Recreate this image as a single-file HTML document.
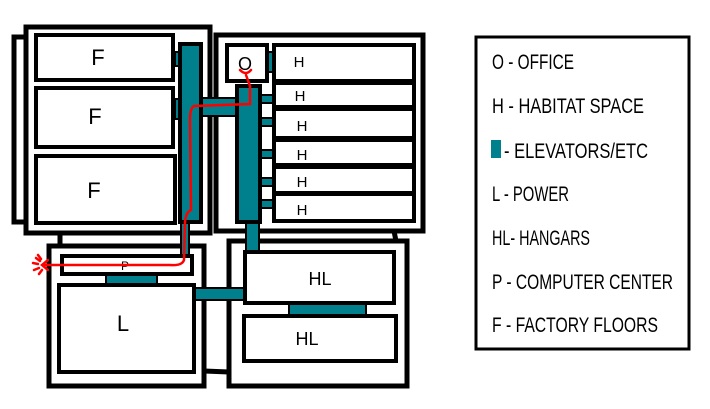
<!DOCTYPE html>
<html><head><style>body{margin:0;background:#fff}svg{display:block}</style></head>
<body>
<svg width="710" height="409" viewBox="0 0 710 409" xmlns="http://www.w3.org/2000/svg">
<rect width="710" height="409" fill="#fff"/>
<g fill="#fff" stroke="#000" stroke-width="5">
<rect x="14" y="37" width="12" height="185"/>
<rect x="26" y="27" width="184" height="206"/>
<rect x="216" y="35" width="207" height="196"/>
<rect x="49" y="246" width="155" height="140"/>
<rect x="229" y="241" width="178" height="145"/>
<line x1="60" y1="233" x2="60" y2="246"/>
<line x1="204" y1="371" x2="229" y2="372"/>
<line x1="394" y1="231" x2="396" y2="241"/>
</g>
<g fill="#007f8c" stroke="#000" stroke-width="2">
<rect x="175" y="52" width="6" height="14"/>
<rect x="175" y="99" width="6" height="20"/>
<rect x="200" y="98" width="38" height="18"/>
<rect x="266" y="52" width="8" height="20"/>
<rect x="260" y="95" width="14" height="8"/>
<rect x="260" y="118" width="14" height="8"/>
<rect x="260" y="150" width="14" height="8"/>
<rect x="260" y="178" width="14" height="8"/>
<rect x="260" y="200" width="14" height="8"/>
<rect x="181" y="222" width="8" height="34"/>
<rect x="246" y="222" width="13" height="30"/>
<rect x="106" y="275" width="51" height="10"/>
<rect x="289" y="303" width="77" height="12"/>
<rect x="194" y="288" width="51" height="12"/>
</g>
<g fill="#007f8c" stroke="#000" stroke-width="4">
<rect x="180" y="44" width="21" height="178"/>
<rect x="237" y="86" width="23" height="136"/>
</g>
<g fill="#fff" stroke="#000" stroke-width="4">
<rect x="36" y="35" width="137" height="45"/>
<rect x="36" y="88" width="137" height="59"/>
<rect x="36" y="156" width="139" height="67"/>
<rect x="227" y="45" width="40" height="36"/>
<rect x="274" y="45" width="140" height="36"/>
<rect x="274" y="83" width="140" height="24"/>
<rect x="274" y="109" width="140" height="29"/>
<rect x="274" y="140" width="140" height="25"/>
<rect x="274" y="167" width="140" height="26"/>
<rect x="274" y="194" width="140" height="27"/>
<rect x="62" y="256" width="130" height="18"/>
<rect x="59" y="285" width="135" height="87"/>
<rect x="245" y="252" width="149" height="51"/>
<rect x="244" y="316" width="152" height="45"/>
<rect x="476" y="37" width="213" height="312" stroke-width="3"/>
</g>
<g font-family="Liberation Sans, sans-serif" fill="#000" text-anchor="middle">
<text x="98" y="65" font-size="22">F</text>
<text x="95" y="124" font-size="22">F</text>
<text x="94" y="198" font-size="22">F</text>
<text x="245" y="70" font-size="18">O</text>
<g font-size="15"><text x="299" y="67">H</text><text x="300" y="101">H</text><text x="302" y="131">H</text><text x="302" y="160">H</text><text x="302" y="187">H</text><text x="302" y="215">H</text></g>
<text x="125" y="270" font-size="12">P</text>
<text x="123" y="331" font-size="22">L</text>
<text x="320" y="285" font-size="18">HL</text>
<text x="307" y="345" font-size="18">HL</text>
</g>
<rect x="491" y="140" width="10" height="18" fill="#007f8c"/>
<g font-family="Liberation Sans, sans-serif" font-size="21" fill="#000">
<text x="492" y="69" textLength="82" lengthAdjust="spacingAndGlyphs">O - OFFICE</text>
<text x="492" y="113" textLength="152" lengthAdjust="spacingAndGlyphs">H - HABITAT SPACE</text>
<text x="504" y="158" textLength="144" lengthAdjust="spacingAndGlyphs">- ELEVATORS/ETC</text>
<text x="492" y="201" textLength="77" lengthAdjust="spacingAndGlyphs">L - POWER</text>
<text x="492" y="245" textLength="98" lengthAdjust="spacingAndGlyphs">HL- HANGARS</text>
<text x="492" y="289" textLength="181" lengthAdjust="spacingAndGlyphs">P - COMPUTER CENTER</text>
<text x="492" y="332" textLength="166" lengthAdjust="spacingAndGlyphs">F - FACTORY FLOORS</text>
</g>
<g fill="none" stroke="#f00" stroke-width="2.5" stroke-linecap="round">
<path d="M240,70 Q246,76 251,70 M246,75 L250,86 L250,104 L194,106 Q190,108 190,120 L191,210 Q186,212 185,222 L184,260 Q182,266 170,265 L44,265"/>
<path d="M48,260 L42,265 L48,270"/>
<path d="M36,258 L40,261 M33,263 L38,264 M34,270 L39,268 M39,274 L42,270 M38,255 L41,259"/>
</g>
</svg>
</body></html>
